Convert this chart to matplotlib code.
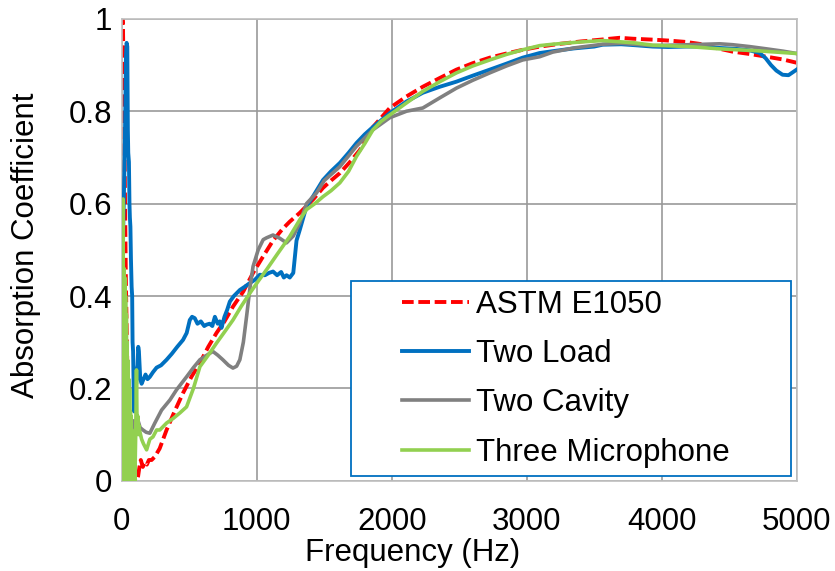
import numpy as np
import matplotlib
matplotlib.use("Agg")
import matplotlib.pyplot as plt
from matplotlib.patches import Rectangle

plt.rcParams['font.family'] = ['Liberation Sans', 'DejaVu Sans']

# ASTM E1050 (red dashed)
astm_f = [0, 4, 8, 12, 16, 20, 25, 30, 40, 50,
          60, 70, 80, 90, 100, 110, 120, 130, 140, 155,
          170, 185, 200, 220, 244, 280, 331, 390, 453, 515,
          578, 640, 701, 760, 823, 900, 972, 1045, 1120, 1190,
          1244, 1318, 1420, 1490, 1550, 1615, 1690, 1763, 1861, 1985,
          2109, 2230, 2356, 2479, 2600, 2726, 2850, 2970, 3100, 3250,
          3400, 3550, 3689, 3785, 3933, 4050, 4180, 4300, 4400, 4526,
          4650, 4778, 4900, 5000]
astm_a = [0.28, 1.0, 0.98, 0.90, 0.80, 0.70, 0.55, 0.42, 0.25, 0.14,
          0.08, 0.04, 0.02, 0.01, 0.0, 0.0, 0.01, 0.03, 0.045, 0.03,
          0.04, 0.035, 0.045, 0.045, 0.052, 0.07, 0.11, 0.15, 0.19, 0.225,
          0.255, 0.29, 0.32, 0.345, 0.377, 0.41, 0.45, 0.485, 0.52, 0.545,
          0.561, 0.58, 0.61, 0.634, 0.65, 0.666, 0.69, 0.716, 0.766, 0.807,
          0.832, 0.853, 0.872, 0.89, 0.904, 0.916, 0.925, 0.933, 0.94, 0.946,
          0.951, 0.955, 0.959, 0.957, 0.955, 0.953, 0.95, 0.945, 0.937, 0.929,
          0.924, 0.918, 0.912, 0.905]

# Two Load (blue)
load_f = [0, 5, 10, 15, 20, 25, 30, 35, 40, 44,
          47, 52, 56, 59, 63, 67, 72, 76, 79, 83,
          87, 91, 96, 101, 106, 111, 116, 121, 126, 131,
          136, 146, 160, 175, 190, 207, 230, 257, 290, 331,
          370, 410, 453, 480, 503, 520, 540, 560, 585, 610,
          627, 650, 670, 689, 710, 725, 738, 760, 780, 800,
          830, 874, 910, 948, 985, 1022, 1060, 1090, 1120, 1150,
          1180, 1200, 1220, 1244, 1270, 1294, 1318, 1368, 1415, 1490,
          1550, 1615, 1680, 1738, 1800, 1861, 1920, 1985, 2109, 2230,
          2356, 2479, 2600, 2726, 2850, 2970, 3096, 3193, 3350, 3500,
          3563, 3700, 3800, 3933, 4050, 4180, 4300, 4430, 4550, 4650,
          4726, 4770, 4810, 4850, 4896, 4940, 4985, 5000]
load_a = [0.30, 0.45, 0.55, 0.62, 0.70, 0.80, 0.92, 0.948, 0.94, 0.76,
          0.71, 0.69, 0.60, 0.57, 0.55, 0.48, 0.42, 0.40, 0.30, 0.28,
          0.20, 0.15, 0.20, 0.22, 0.21, 0.24, 0.25, 0.29, 0.28, 0.25,
          0.22, 0.21, 0.22, 0.23, 0.22, 0.225, 0.235, 0.245, 0.25, 0.262,
          0.275, 0.29, 0.305, 0.32, 0.348, 0.355, 0.352, 0.34, 0.345, 0.335,
          0.338, 0.34, 0.335, 0.355, 0.34, 0.345, 0.331, 0.355, 0.37, 0.388,
          0.40, 0.413, 0.42, 0.428, 0.435, 0.446, 0.445, 0.45, 0.453, 0.445,
          0.452, 0.44, 0.445, 0.44, 0.45, 0.52, 0.543, 0.594, 0.615, 0.651,
          0.67, 0.688, 0.71, 0.731, 0.75, 0.766, 0.78, 0.796, 0.821, 0.84,
          0.853, 0.864, 0.877, 0.89, 0.903, 0.916, 0.926, 0.93, 0.936, 0.94,
          0.944, 0.945, 0.943, 0.94, 0.939, 0.94, 0.94, 0.937, 0.935, 0.932,
          0.926, 0.915, 0.90, 0.888, 0.879, 0.878, 0.887, 0.89]

# Two Cavity (gray)
cav_f = [0, 5, 10, 15, 20, 30, 40, 50, 60, 72,
         80, 90, 100, 108, 120, 135, 156, 180, 207, 244,
         294, 356, 405, 479, 530, 578, 630, 674, 710, 748,
         790, 823, 850, 874, 900, 924, 950, 972, 1010, 1047,
         1072, 1120, 1170, 1220, 1270, 1318, 1368, 1442, 1500, 1615,
         1738, 1861, 1985, 2109, 2230, 2356, 2479, 2600, 2726, 2850,
         2970, 3096, 3193, 3350, 3563, 3700, 3933, 4200, 4430, 4526,
         4650, 4778, 4900, 5000]
cav_a = [0.30, 0.60, 0.45, 0.30, 0.20, 0.08, 0.02, 0.10, 0.05, 0.125,
         0.10, 0.13, 0.12, 0.117, 0.13, 0.115, 0.11, 0.105, 0.103, 0.125,
         0.153, 0.175, 0.197, 0.225, 0.245, 0.262, 0.272, 0.28, 0.272, 0.262,
         0.25, 0.244, 0.248, 0.262, 0.30, 0.356, 0.42, 0.464, 0.50, 0.522,
         0.526, 0.532, 0.525, 0.515, 0.53, 0.558, 0.60, 0.623, 0.65, 0.68,
         0.724, 0.76, 0.786, 0.80, 0.807, 0.829, 0.85, 0.867, 0.883, 0.898,
         0.911, 0.918, 0.928, 0.937, 0.945, 0.947, 0.942, 0.944, 0.946, 0.944,
         0.94, 0.935, 0.93, 0.925]

# Three Microphone (green)
mic_f = [0, 3, 6, 9, 12, 15, 18, 21, 24, 27, 30, 33, 36, 39,
         42, 45, 48, 51, 54, 57, 60, 63, 66, 69,
         72, 75, 78, 81, 84, 87, 90, 93, 96, 99,
         102, 105, 108, 111, 114,
         118, 122, 126, 130,
         138, 146, 160, 183, 207, 230, 257, 281,
         331, 380, 430, 479, 530, 578, 640, 701, 760, 823,
         885, 948, 1010, 1072, 1150, 1244, 1318, 1368, 1430, 1490,
         1550, 1615, 1680, 1738, 1800, 1861, 1920, 1985,
         2109, 2230, 2356, 2479, 2600, 2726, 2850, 2970,
         3096, 3193, 3400, 3563, 3800, 3933, 4200, 4430, 4700, 5000]
mic_a = [0.28, 0.47, 0.05, 0.61, 0.10, 0.46, 0.0, 0.44, 0.05, 0.40, 0.0, 0.36, 0.02, 0.30,
         0.0, 0.26, 0.05, 0.22, 0.0, 0.20, 0.03, 0.15, 0.0, 0.14,
         0.02, 0.11, 0.0, 0.10, 0.01, 0.08, 0.0, 0.07, 0.0, 0.05,
         0.10, 0.16, 0.24, 0.15, 0.12,
         0.14, 0.10, 0.12, 0.11,
         0.10, 0.09, 0.08, 0.067, 0.09, 0.095, 0.11, 0.11,
         0.125, 0.135, 0.147, 0.16, 0.20, 0.247, 0.272, 0.298, 0.322, 0.348,
         0.378, 0.406, 0.432, 0.457, 0.49, 0.529, 0.565, 0.587, 0.60, 0.615,
         0.628, 0.645, 0.67, 0.702, 0.73, 0.76, 0.778, 0.792,
         0.818, 0.843, 0.864, 0.883, 0.898, 0.911, 0.923, 0.933,
         0.942, 0.945, 0.95, 0.953, 0.948, 0.943, 0.94, 0.935, 0.931, 0.925]

x_ticks = [0, 1000, 2000, 3000, 4000, 5000]
y_ticks = [0, 0.2, 0.4, 0.6, 0.8, 1.0]
y_tick_labels = ['0', '0.2', '0.4', '0.6', '0.8', '1']

fs = 22.5

fig = plt.figure(figsize=(8.35, 5.71), dpi=100)
ax = fig.add_axes([0.146, 0.158, 0.808, 0.809])

ax.plot(astm_f, astm_a, color='#FF0000', lw=2.8, dashes=(3, 1.2), label='ASTM E1050', zorder=2)
ax.plot(load_f, load_a, color='#0070C0', lw=2.8, label='Two Load', zorder=3)
ax.plot(cav_f, cav_a, color='#808080', lw=2.6, label='Two Cavity', zorder=3)
ax.plot(mic_f, mic_a, color='#92D050', lw=2.6, label='Three Microphone', zorder=4)

ax.set_xlim(0, 5000)
ax.set_ylim(0, 1)
ax.set_xticks(x_ticks)
ax.set_yticks(y_ticks)
ax.set_yticklabels(y_tick_labels)
ax.tick_params(axis='both', length=0, labelsize=fs, colors='black')
ax.tick_params(axis='x', pad=19)
ax.tick_params(axis='y', pad=7)
ax.grid(True, color='#999999', lw=1.2)
ax.set_axisbelow(True)
for s in ax.spines.values():
    s.set_color('#BFBFBF')
    s.set_linewidth(1.2)

ax.set_xlabel('Frequency (Hz)', fontsize=fs, labelpad=0)
ax.xaxis.set_label_coords(0.431, -0.123)
ax.set_ylabel('Absorption Coefficient', fontsize=fs)
ax.yaxis.set_label_coords(-0.12, 0.509)

# legend box
box = Rectangle((0.339, 0.0093), 0.652, 0.424, transform=ax.transAxes,
                facecolor='white', edgecolor='#0070C0', lw=1.3, zorder=5)
ax.add_patch(box)
leg = ax.legend(loc='center', bbox_to_anchor=(0.658, 0.221), frameon=False,
                fontsize=fs, handlelength=2.16, handletextpad=0.22,
                labelspacing=0.62, borderpad=0)
leg.set_zorder(6)

fig.savefig('out.png', dpi=100)
